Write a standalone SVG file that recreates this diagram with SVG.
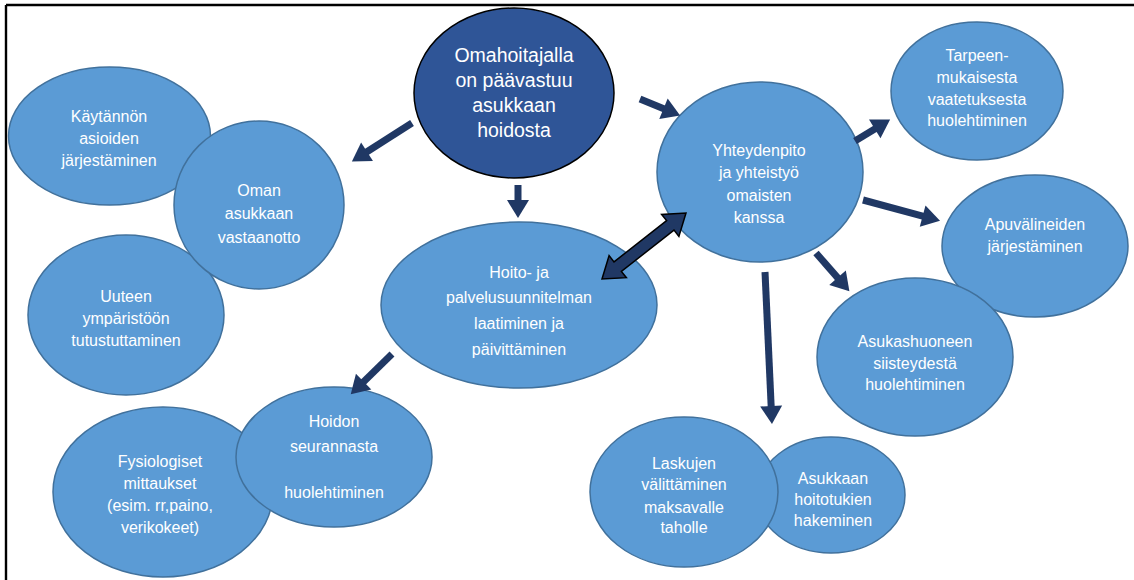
<svg xmlns="http://www.w3.org/2000/svg" width="1134" height="580" viewBox="0 0 1134 580">
<style>
.n{fill:#5B9BD5;stroke:#41719C;stroke-width:1.5}
.c{fill:#2F5597;stroke:#000;stroke-width:1.5}
.t{font-family:"Liberation Sans",Arial,sans-serif;font-size:16px;fill:#fff;text-anchor:middle}
.tc{font-family:"Liberation Sans",Arial,sans-serif;font-size:19.5px;fill:#fff;text-anchor:middle}
.a{stroke:#203864;stroke-width:7;fill:none;marker-end:url(#h)}
.d{fill:#203864;stroke:#000;stroke-width:1.5;stroke-linejoin:miter}
.b{stroke:#000;stroke-width:2.4}
</style>
<defs>
<marker id="h" markerUnits="userSpaceOnUse" markerWidth="20" markerHeight="24" viewBox="0 -12 19 24" refX="1" refY="0" orient="auto">
<path d="M0,-11 L18,0 L0,11 z" fill="#203864"/>
</marker>
</defs>
<rect width="1134" height="580" fill="#fff"/>
<line class="b" x1="6" y1="5" x2="1134" y2="5"/>
<line class="b" x1="6" y1="5" x2="6" y2="580"/>

<g id="kaytannon"><ellipse class="n" cx="109.5" cy="136" rx="101" ry="69"/>
<text class="t" x="109" y="121.5">Käytännön</text><text class="t" x="109" y="143.5">asioiden</text><text class="t" x="109" y="165.5">järjestäminen</text></g>

<g id="uuteen"><ellipse class="n" cx="126" cy="315" rx="98" ry="80"/>
<text class="t" x="126" y="301.5">Uuteen</text><text class="t" x="126" y="323.5">ympäristöön</text><text class="t" x="126" y="345.5">tutustuttaminen</text></g>

<g id="oman"><ellipse class="n" cx="259" cy="205" rx="85" ry="84"/>
<text class="t" x="259" y="195.5">Oman</text><text class="t" x="259" y="218.5">asukkaan</text><text class="t" x="259" y="242.5">vastaanotto</text></g>

<g id="central"><ellipse class="c" cx="514" cy="93" rx="100" ry="85"/>
<text class="tc" x="514" y="62">Omahoitajalla</text><text class="tc" x="514" y="87">on päävastuu</text><text class="tc" x="514" y="112">asukkaan</text><text class="tc" x="514" y="137">hoidosta</text></g>

<g id="hoito"><ellipse class="n" cx="519" cy="305" rx="138" ry="83"/>
<text class="t" x="519" y="277.5">Hoito- ja</text><text class="t" x="519" y="302.5">palvelusuunnitelman</text><text class="t" x="519" y="328.5">laatiminen ja</text><text class="t" x="519" y="354.5">päivittäminen</text></g>

<g id="yhteydenpito"><ellipse class="n" cx="760" cy="172" rx="103" ry="90"/>
<text class="t" x="759" y="155.5">Yhteydenpito</text><text class="t" x="759" y="177.5">ja yhteistyö</text><text class="t" x="759" y="200.5">omaisten</text><text class="t" x="759" y="222.5">kanssa</text></g>

<g id="tarpeen"><ellipse class="n" cx="977" cy="91" rx="86" ry="69"/>
<text class="t" x="977" y="60.5">Tarpeen-</text><text class="t" x="977" y="82.5">mukaisesta</text><text class="t" x="977" y="104.5">vaatetuksesta</text><text class="t" x="977" y="125.5">huolehtiminen</text></g>

<g id="apuvalineiden"><ellipse class="n" cx="1035" cy="246" rx="93" ry="71"/>
<text class="t" x="1035" y="229.5">Apuvälineiden</text><text class="t" x="1035" y="251.5">järjestäminen</text></g>

<g id="asukashuoneen"><ellipse class="n" cx="915" cy="357" rx="98" ry="79"/>
<text class="t" x="915" y="346.5">Asukashuoneen</text><text class="t" x="915" y="368.5">siisteydestä</text><text class="t" x="915" y="389.5">huolehtiminen</text></g>

<g id="hoitotukien"><ellipse class="n" cx="831" cy="495" rx="74" ry="58"/>
<text class="t" x="833" y="483.5">Asukkaan</text><text class="t" x="833" y="504.5">hoitotukien</text><text class="t" x="833" y="525.5">hakeminen</text></g>

<g id="laskujen"><ellipse class="n" cx="684" cy="492" rx="94" ry="75"/>
<text class="t" x="684" y="468.5">Laskujen</text><text class="t" x="684" y="489.5">välittäminen</text><text class="t" x="684" y="512.5">maksavalle</text><text class="t" x="684" y="532.5">taholle</text></g>

<g id="fysiologiset"><ellipse class="n" cx="163" cy="492" rx="110" ry="85"/>
<text class="t" x="160" y="466.5">Fysiologiset</text><text class="t" x="160" y="488.5">mittaukset</text><text class="t" x="160" y="510.5">(esim. rr,paino,</text><text class="t" x="160" y="532.5">verikokeet)</text></g>

<g id="hoidon"><ellipse class="n" cx="334" cy="457" rx="98" ry="70"/>
<text class="t" x="334" y="426.5">Hoidon</text><text class="t" x="334" y="451.5">seurannasta</text><text class="t" x="334" y="497.5">huolehtiminen</text></g>

<g id="connectors">
<line class="a" x1="412" y1="123" x2="366.2" y2="152.3"/>
<line class="a" x1="518" y1="185" x2="518" y2="201"/>
<line class="a" x1="640" y1="99" x2="664.4" y2="109.1"/>
<polygon class="d" points="686,213 678.9,236.4 674,230.1 621.4,271.4 626.4,277.7 602,279 609.1,255.6 614,261.9 666.6,220.6 661.6,214.4"/>
<line class="a" x1="855" y1="141" x2="875.6" y2="128.4"/>
<line class="a" x1="863" y1="200" x2="923.6" y2="216.3"/>
<line class="a" x1="816" y1="253" x2="838.2" y2="278.4"/>
<line class="a" x1="765" y1="272" x2="771.2" y2="407"/>
<line class="a" x1="392" y1="354" x2="362.9" y2="382.4"/>
</g>
</svg>
